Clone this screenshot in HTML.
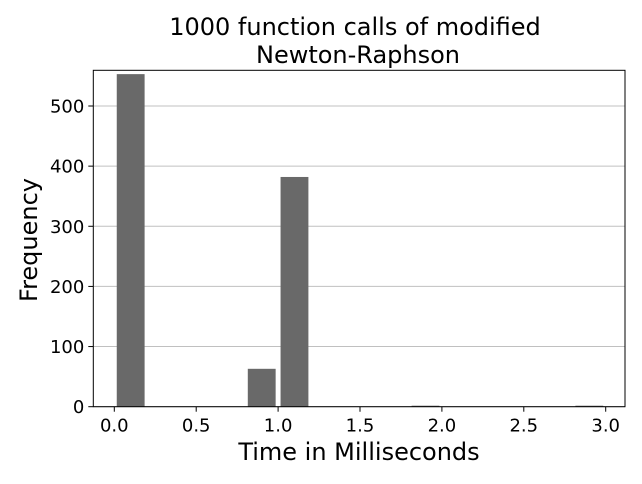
<!DOCTYPE html>
<html><head><meta charset="utf-8"><style>
body{margin:0;background:#fff;width:642px;height:480px;overflow:hidden;font-family:"DejaVu Sans","Liberation Sans",sans-serif}
</style></head><body>
<svg id="chart" width="642" height="480" viewBox="0 0 642 480" font-family="DejaVu Sans, Liberation Sans, sans-serif">
</svg>
<script>
const binStarts=[0,0.8,1.0,1.8,2.8];
const counts=[553,63,382,1,1];
const xTicks=[0,0.5,1.0,1.5,2.0,2.5,3.0];
const xTickLabels=["0.0","0.5","1.0","1.5","2.0","2.5","3.0"];
const yTicks=[0,100,200,300,400,500];
const binWidth=0.2;
const rwidth=0.85;
const svg=document.getElementById('chart');
const NS='http://www.w3.org/2000/svg';
const L=93.3,R=625,T=70.3,B=406.7;
const x=v=>114.3+v*163.8;
const y=v=>B-v*0.6014;
function mk(t,a){const e=document.createElementNS(NS,t);for(const k in a)e.setAttribute(k,a[k]);svg.appendChild(e);return e;}
yTicks.forEach(t=>{const g=mk('line',{x1:L,x2:R,y1:y(t),y2:y(t),stroke:'#c0c0c0','stroke-width':1});

});
binStarts.forEach((s,i)=>{const pad=binWidth*(1-rwidth)/2;
const h=Math.max(B-y(counts[i]),1);
const r=mk('rect',{x:x(s+pad),y:B-h,width:x(s+binWidth-pad)-x(s+pad),height:h,fill:'#696969'});

});
const f=mk('rect',{x:L,y:T,width:R-L,height:B-T,fill:'none',stroke:'#000','stroke-width':1});


xTicks.forEach((t,i)=>{const l=mk('line',{x1:x(t),x2:x(t),y1:B,y2:B+5,stroke:'#000'});


const tx=mk('text',{x:x(t),y:B+25,'font-size':18,'text-anchor':'middle'});tx.textContent=xTickLabels[i];

});
yTicks.forEach(t=>{const l=mk('line',{x1:L-5,x2:L,y1:y(t),y2:y(t),stroke:'#000'});


const tx=mk('text',{x:L-9,y:y(t)+6.5,'font-size':18,'text-anchor':'end'});tx.textContent=t;

});
function label(txt,a,name){const e=mk('text',a);e.textContent=txt;

return e;}
label('1000 function calls of modified',{x:355,y:35,'font-size':24,'text-anchor':'middle'},'chart-title-line1');
label('Newton-Raphson',{x:358,y:63,'font-size':24,'text-anchor':'middle'},'chart-title-line2');
label('Time in Milliseconds',{x:359,y:460,'font-size':24,'text-anchor':'middle'},'x-axis-title');
label('Frequency',{x:37,y:240,'font-size':24,'text-anchor':'middle',transform:'rotate(-90 37 240)'},'y-axis-title');
</script>
</body></html>
